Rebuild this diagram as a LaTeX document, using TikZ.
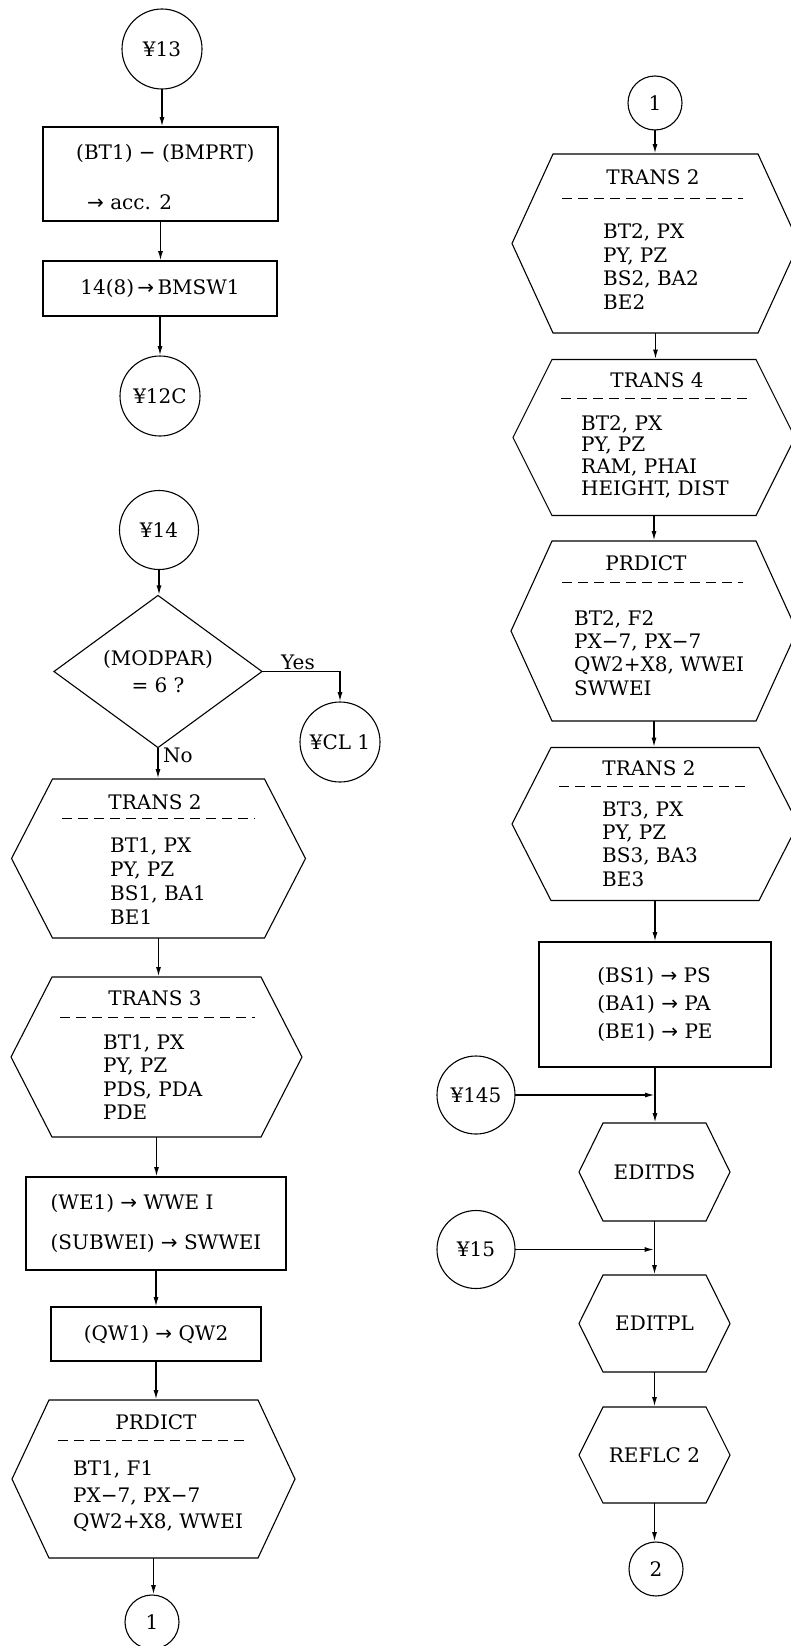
\documentclass[tikz,border=0pt]{standalone}
\usepackage{fontspec}
\setmainfont{DejaVu Serif}
\newfontfamily\symfont{DejaVu Sans}
\usetikzlibrary{arrows.meta,positioning,calc,shapes.geometric}
\newcommand\chartfont{\fontsize{20}{24}\selectfont}
\newcommand\toarr{{\symfont →}}
\newcommand\mns{{\symfont −}}
\tikzset{
	pbox/.style={draw=black, line width=1.1pt, rectangle, inner sep=0pt,
		outer sep=0pt, align=center, font=\chartfont},
	cnode/.style={draw=black, line width=1.1pt, circle, inner sep=0pt,
		outer sep=0pt, minimum size=#1, font=\chartfont},
	hexn/.style={rectangle, inner sep=0pt, outer sep=0pt, font=\chartfont},
	dnode/.style={draw=black, line width=1.1pt, diamond, inner sep=0pt,
		outer sep=0pt, align=center, font=\fontsize{20}{27}\selectfont},
	ftitle/.style={inner sep=0pt, font=\chartfont},
	fbody/.style={inner sep=0pt, anchor=west, align=left,
		font=\fontsize{20}{#1}\selectfont},
	fdash/.style={line width=1pt, dash pattern=on 10pt off 6pt},
	hexline/.style={line width=1.1pt, line join=miter},
	farr/.style={-{Latex[length=10pt,width=5pt]}, line width=1.6pt},
}
\begin{document}
\begin{tikzpicture}[x=1pt,y=-1pt]
	\clip (0,0) rectangle (791,1646);
	\fill[white] (0,0) rectangle (791,1646);
	% left column
	\node[cnode=80pt] (c13) at (162,49) {¥13};
	\node[pbox, minimum width=235pt, minimum height=94pt] (b1) at (160.5,174) {};
	\node[ftitle, anchor=west] (b1a) at (76,153) {(BT1) \mns{} (BMPRT)};
	\node[ftitle, anchor=west] (b1b) at (87,202) {\toarr{} acc. 2};
	\node[pbox, minimum width=234pt, minimum height=55pt] (b2) at (160,288.5) {14(8)\,\toarr\,BMSW1};
	\node[cnode=80pt] (c12) at (160,396) {¥12C};
	\node[cnode=79pt] (c14) at (159,530) {¥14};
	\node[dnode, minimum width=208pt, minimum height=129pt] (d) at (158,671.5) {(MODPAR)\\= 6 ?};
	\node[ftitle] (yes) at (298,662) {Yes};
	\node[cnode=80pt] (cl1) at (340,742) {¥CL 1};
	\node[ftitle, anchor=west] (no) at (163,755) {No};
	\node[hexn, minimum width=212pt, minimum height=159pt] (t2a) at (158.5,858.5) {};
	\node[ftitle] (t2at) at (155,802) {TRANS 2};
	\draw[fdash] (62,818) -- (255,818);
	\node[fbody=24pt] (t2ab) at (110,881) {BT1, PX\\PY, PZ\\BS1, BA1\\BE1};
	\node[hexn, minimum width=209pt, minimum height=160pt] (t3) at (156.5,1057) {};
	\node[ftitle] (t3t) at (155,998) {TRANS 3};
	\draw[fdash] (60,1017) -- (255,1017);
	\node[fbody=23.3pt] (t3b) at (103,1077) {BT1, PX\\PY, PZ\\PDS, PDA\\PDE};
	\node[pbox, align=left, font=\fontsize{20}{40}\selectfont, minimum width=260pt, minimum height=93pt] (b3) at (156,1223.5)
		{(WE1) \toarr{} WWE I\\(SUBWEI) \toarr{} SWWEI};
	\node[pbox, minimum width=210pt, minimum height=54pt] (b4) at (156,1334) {(QW1) \toarr{} QW2};
	\node[hexn, minimum width=209pt, minimum height=158pt] (p1) at (153.5,1479) {};
	\node[ftitle] (p1t) at (156,1422) {PRDICT};
	\draw[fdash] (58,1440) -- (250,1440);
	\node[fbody=26.5pt] (p1b) at (73,1496.5) {BT1, F1\\PX\mns7, PX\mns7\\QW2+X8, WWEI};
	\node[cnode=54pt] (c1a) at (152,1622) {1};
	% right column
	\node[cnode=54pt] (c1b) at (655,103) {1};
	\node[hexn, minimum width=205pt, minimum height=179pt] (t2b) at (655.5,243.5) {};
	\node[ftitle] (t2bt) at (653,177) {TRANS 2};
	\draw[fdash] (562,198) -- (743,198);
	\node[fbody=23.4pt] (t2bb) at (603,266.5) {BT2, PX\\PY, PZ\\BS2, BA2\\BE2};
	\node[hexn, minimum width=204pt, minimum height=156pt] (t4) at (654,437.5) {};
	\node[ftitle] (t4t) at (657,380.6) {TRANS 4};
	\draw[fdash] (561,398) -- (750,398);
	\node[fbody=21.7pt] (t4b) at (581,456.5) {BT2, PX\\PY, PZ\\RAM, PHAI\\HEIGHT, DIST};
	\node[hexn, minimum width=204pt, minimum height=180pt] (p2) at (654,631) {};
	\node[ftitle] (p2t) at (646,563) {PRDICT};
	\draw[fdash] (562,582) -- (743,582);
	\node[fbody=23.4pt] (p2b) at (574,653) {BT2, F2\\PX\mns7, PX\mns7\\QW2+X8, WWEI\\SWWEI};
	\node[hexn, minimum width=208pt, minimum height=153pt] (t2c) at (655,824) {};
	\node[ftitle] (t2ct) at (649,768.5) {TRANS 2};
	\draw[fdash] (559,786) -- (747,786);
	\node[fbody=23.4pt] (t2cb) at (602,844) {BT3, PX\\PY, PZ\\BS3, BA3\\BE3};
	\node[pbox, align=left, font=\fontsize{20}{28}\selectfont, minimum width=232pt, minimum height=125pt] (b5) at (655,1004.5)
		{(BS1) \toarr{} PS\\(BA1) \toarr{} PA\\(BE1) \toarr{} PE};
	\node[cnode=78pt] (e145) at (476,1095) {¥145};
	\node[hexn, minimum width=103pt, minimum height=98pt] (ed) at (654.5,1172) {EDITDS};
	\node[cnode=78pt] (e15) at (476,1249.5) {¥15};
	\node[hexn, minimum width=103pt, minimum height=97pt] (epl) at (654.5,1323.5) {EDITPL};
	\node[hexn, minimum width=103pt, minimum height=96pt] (rf) at (654.5,1455) {REFLC 2};
	\node[cnode=54pt] (c2) at (656,1569) {2};
	% hexagon outlines
	\foreach \h/\d in {t2a/41,t3/41,p1/37,t2b/41,t4/39,p2/41,t2c/39,ed/24,epl/24,rf/24}
		\draw[hexline] (\h.north west) -- (\h.north east) -- ([xshift=\d pt]\h.east)
			-- (\h.south east) -- (\h.south west) -- ([xshift=-\d pt]\h.west) -- cycle;
	% connectors
	\draw[farr] (c13) -- (c13 |- b1.north);
	\draw[farr] (b1) -- (b1 |- b2.north);
	\draw[farr] (b2) -- (b2 |- c12.north);
	\draw[farr] (c14) -- (c14 |- d.north);
	\draw[farr] (d.east) -- (d.east -| cl1) -- (cl1.north);
	\draw[farr] (d.south) -- (d.south |- t2a.north);
	\draw[farr] (t2a.south) -- (t2a.south |- t3.north);
	\draw[farr] (t3.south) -- (t3.south |- b3.north);
	\draw[farr] (b3) -- (b3 |- b4.north);
	\draw[farr] (b4) -- (b4 |- p1.north);
	\draw[farr] (p1.south) -- (p1.south |- c1a.north);
	\draw[farr] (c1b) -- (c1b |- t2b.north);
	\draw[farr] (t2b.south) -- (t2b.south |- t4.north);
	\draw[farr] (t4.south) -- (t4.south |- p2.north);
	\draw[farr] (p2.south) -- (p2.south |- t2c.north);
	\draw[farr] (t2c.south) -- (t2c.south |- b5.north);
	\draw[farr] (b5) -- (b5 |- ed.north);
	\draw[farr] (e145) -- (e145 -| b5);
	\draw[farr] (ed.south) -- (ed.south |- epl.north);
	\draw[farr] (e15) -- (e15 -| ed);
	\draw[farr] (epl.south) -- (epl.south |- rf.north);
	\draw[farr] (rf.south) -- (rf.south |- c2.north);
\end{tikzpicture}
\end{document}
